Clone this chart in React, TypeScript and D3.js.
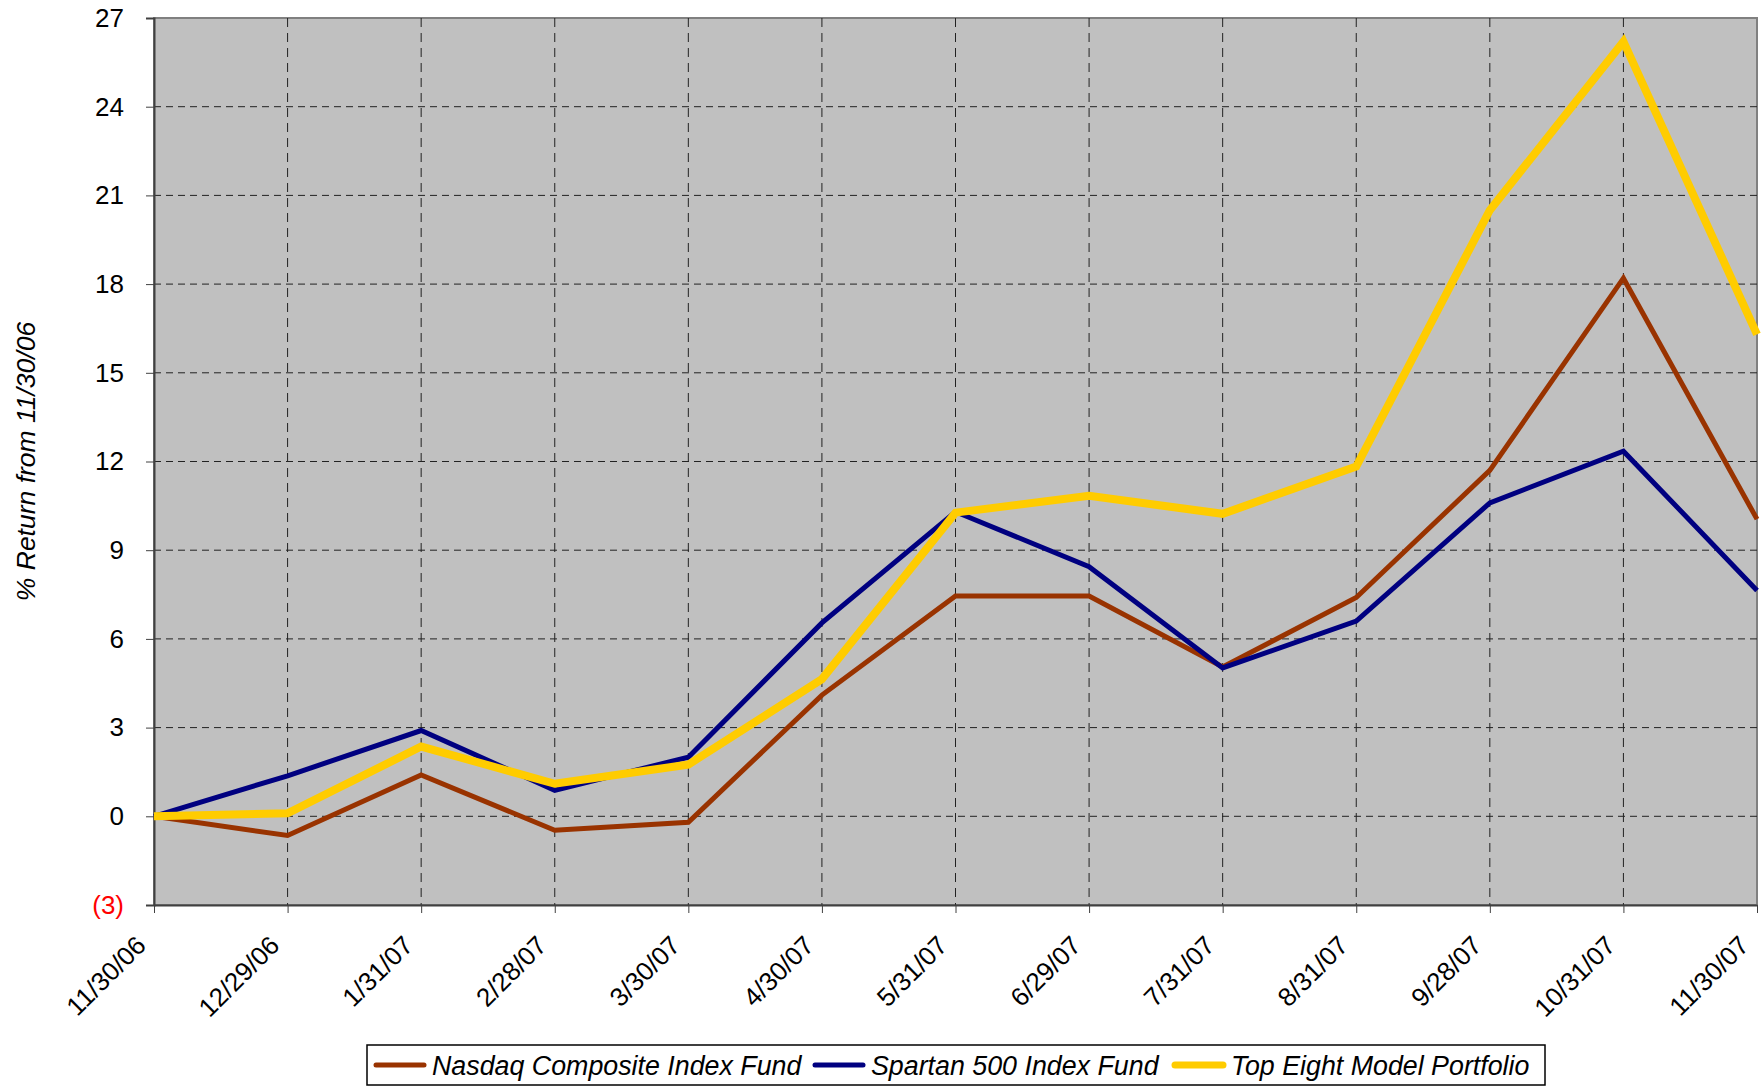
import React, { useEffect, useRef } from "react";
import * as d3 from "d3";

const dates = [
  "11/30/06", "12/29/06", "1/31/07", "2/28/07", "3/30/07", "4/30/07", "5/31/07",
  "6/29/07", "7/31/07", "8/31/07", "9/28/07", "10/31/07", "11/30/07"
];

const nasdaq = [0, -0.65, 1.4, -0.47, -0.2, 4.1, 7.45, 7.45, 5.05, 7.4, 11.7, 18.2, 10.05];
const spartan = [0, 1.37, 2.9, 0.88, 2.0, 6.54, 10.3, 8.44, 5.02, 6.6, 10.6, 12.35, 7.64];
const topEight = [0, 0.1, 2.36, 1.1, 1.75, 4.64, 10.27, 10.84, 10.23, 11.83, 20.5, 26.2, 16.3];

const yTicks = [-3, 0, 3, 6, 9, 12, 15, 18, 21, 24, 27];

const seriesNames = ["Nasdaq Composite Index Fund", "Spartan 500 Index Fund", "Top Eight Model Portfolio"];

const App = () => {
  const svgRef = useRef<SVGSVGElement>(null);

  useEffect(() => {
    const w = 1763;
    const h = 1088;
    const margin = { left: 154, right: 6, top: 18, bottom: 183 };
    const font = "'Liberation Sans', Arial, Helvetica, sans-serif";

    const svg = d3.select(svgRef.current)
      .attr("width", w)
      .attr("height", h);
    svg.selectAll("*").remove();

    const x = d3.scalePoint()
      .domain(dates)
      .range([margin.left, w - margin.right]);

    const y = d3.scaleLinear()
      .domain([-3, 27])
      .range([h - margin.bottom, margin.top]);

    // plot background
    svg.append("rect")
      .attr("x", margin.left)
      .attr("y", margin.top)
      .attr("width", w - margin.right - margin.left)
      .attr("height", h - margin.bottom - margin.top)
      .attr("fill", "#c0c0c0")
      .attr("stroke", "#808080")
      .attr("stroke-width", 2);

    // horizontal grid
    svg.append("g")
      .selectAll("line")
      .data(yTicks.filter(t => t > -3 && t < 27))
      .join("line")
      .attr("x1", margin.left)
      .attr("x2", w - margin.right)
      .attr("y1", d => y(d))
      .attr("y2", d => y(d))
      .attr("stroke", "#222")
      .attr("stroke-width", 1)
      .attr("stroke-dasharray", "7,5");

    // vertical grid
    svg.append("g")
      .selectAll("line")
      .data(dates.slice(1, -1))
      .join("line")
      .attr("x1", d => x(d)!)
      .attr("x2", d => x(d)!)
      .attr("y1", margin.top)
      .attr("y2", h - margin.bottom)
      .attr("stroke", "#222")
      .attr("stroke-width", 1)
      .attr("stroke-dasharray", "9,6");

    // y axis
    const yAxis = svg.append("g")
      .attr("transform", `translate(${margin.left},0)`)
      .call(d3.axisLeft(y).tickValues(yTicks).tickSize(8).tickPadding(22)
        .tickFormat(d => (+d < 0 ? `(${Math.abs(+d)})` : `${d}`)));
    yAxis.select(".domain").attr("stroke", "#404040").attr("stroke-width", 2);
    yAxis.selectAll(".tick line").attr("stroke", "#404040");
    yAxis.selectAll(".tick text")
      .attr("font-family", font)
      .attr("font-size", 26)
      .attr("fill", (d: any) => (d < 0 ? "#ff0000" : "#000"));

    // x axis
    const xAxis = svg.append("g")
      .attr("transform", `translate(0,${h - margin.bottom})`)
      .call(d3.axisBottom(x).tickSize(8).tickSizeOuter(0));
    xAxis.select(".domain").attr("stroke", "#404040").attr("stroke-width", 2);
    xAxis.selectAll(".tick line").attr("stroke", "#404040");
    xAxis.selectAll(".tick text")
      .attr("font-family", font)
      .attr("font-size", 26)
      .attr("fill", "#000")
      .attr("text-anchor", "end")
      .attr("dy", "0")
      .attr("y", 0)
      .attr("transform", "translate(-7,42) rotate(-45)");

    // lines
    const line = d3.line<number>()
      .x((d, i) => x(dates[i])!)
      .y(d => y(d));

    const series = [
      { values: nasdaq, color: "#993300", width: 5 },
      { values: spartan, color: "#000080", width: 5 },
      { values: topEight, color: "#ffcc00", width: 8 }
    ];

    svg.append("g")
      .selectAll("path")
      .data(series)
      .join("path")
      .attr("fill", "none")
      .attr("stroke", d => d.color)
      .attr("stroke-width", d => d.width)
      .attr("stroke-linejoin", "miter")
      .attr("d", d => line(d.values));

    // y axis title
    svg.append("text")
      .attr("transform", `translate(35,${(margin.top + h - margin.bottom) / 2}) rotate(-90)`)
      .attr("text-anchor", "middle")
      .attr("font-family", font)
      .attr("font-size", 26.5)
      .attr("font-style", "italic")
      .text("% Return from 11/30/06");

    // legend
    const legend = svg.append("g");
    legend.append("rect")
      .attr("x", 367)
      .attr("y", 1045)
      .attr("width", 1178)
      .attr("height", 40)
      .attr("fill", "#fff")
      .attr("stroke", "#000")
      .attr("stroke-width", 1.5);

    const legendX = [374, 813, 1173];
    series.forEach((s, i) => {
      const g = legend.append("g").attr("transform", `translate(${legendX[i]},1065)`);
      g.append("line")
        .attr("x1", 2).attr("x2", 50)
        .attr("stroke", s.color)
        .attr("stroke-width", s.width === 8 ? 7 : 5)
        .attr("stroke-linecap", "round");
      g.append("text")
        .attr("x", 58)
        .attr("dy", "0.36em")
        .attr("font-family", font)
        .attr("font-size", 26.8)
        .attr("font-style", "italic")
        .text(seriesNames[i]);
    });
  }, []);

  return <svg ref={svgRef} style={{ position: "absolute", left: 0, top: 0 }} />;
};

export default App;
